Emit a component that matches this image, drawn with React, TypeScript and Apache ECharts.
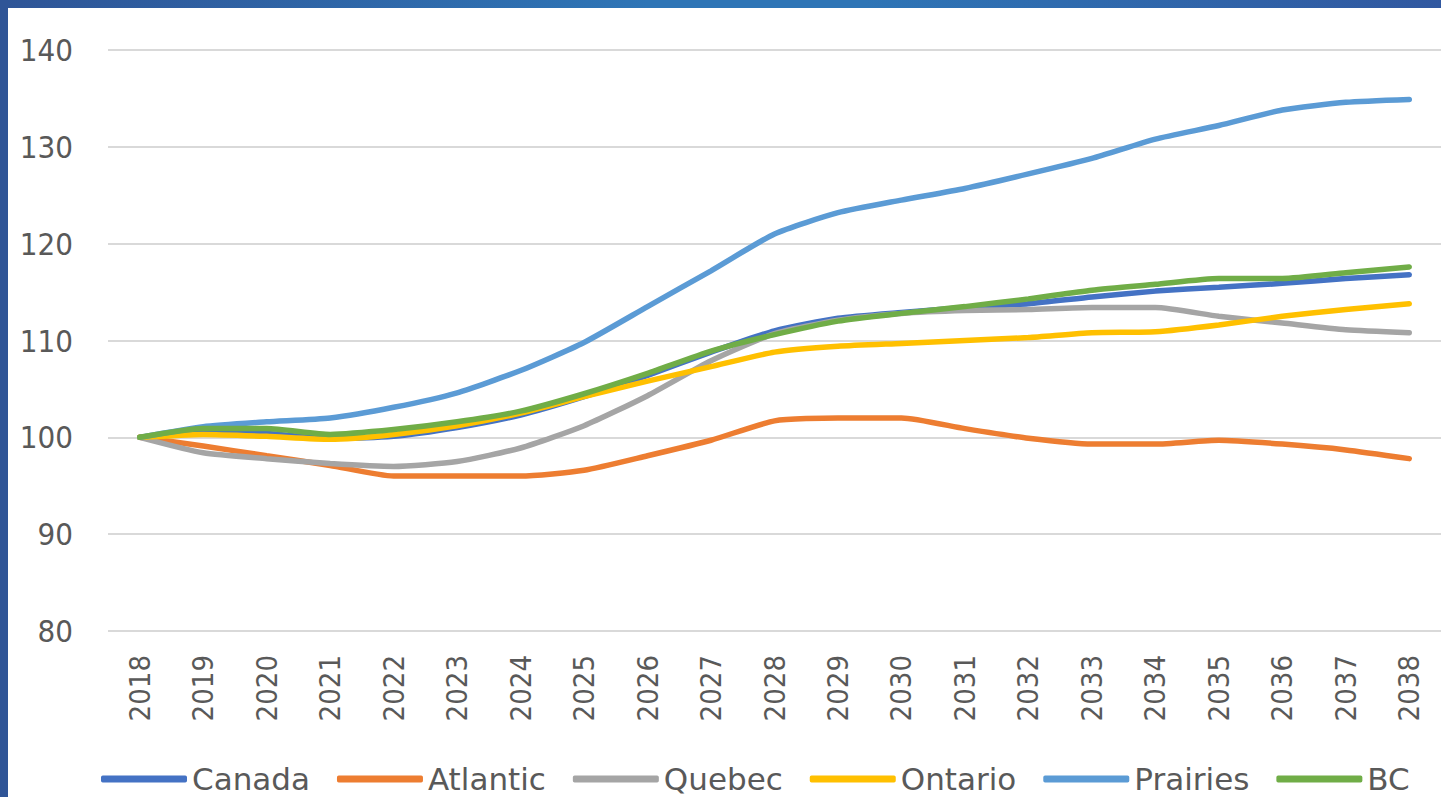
import React, { useEffect, useRef } from "react";
import * as echarts from "echarts";

const years = ["2018","2019","2020","2021","2022","2023","2024","2025","2026","2027","2028","2029","2030","2031","2032","2033","2034","2035","2036","2037","2038"];
const seriesNames = ["Canada", "Atlantic", "Quebec", "Ontario", "Prairies", "BC"];
const colors = ["#4472C4", "#ED7D31", "#A5A5A5", "#FFC000", "#5B9BD5", "#70AD47"];

const canada = [100, 100.6, 100.4, 99.9, 100.1, 101.0, 102.3, 104.2, 106.4, 108.8, 111.0, 112.3, 112.9, 113.4, 113.8, 114.5, 115.1, 115.5, 115.9, 116.4, 116.8];
const atlantic = [100, 99.1, 98.1, 97.1, 96.0, 96.0, 96.0, 96.6, 98.1, 99.7, 101.7, 102.0, 102.0, 100.9, 99.9, 99.3, 99.3, 99.7, 99.3, 98.7, 97.8];
const quebec = [100, 98.4, 97.8, 97.3, 97.0, 97.5, 98.9, 101.2, 104.3, 107.9, 110.7, 112.1, 112.8, 113.1, 113.2, 113.4, 113.4, 112.5, 111.8, 111.1, 110.8];
const ontario = [100, 100.3, 100.1, 99.8, 100.3, 101.2, 102.5, 104.2, 105.8, 107.3, 108.8, 109.4, 109.7, 110.0, 110.3, 110.8, 110.9, 111.6, 112.5, 113.2, 113.8];
const prairies = [100, 101.1, 101.6, 102.0, 103.1, 104.6, 106.9, 109.8, 113.5, 117.2, 121.0, 123.2, 124.5, 125.7, 127.2, 128.8, 130.8, 132.2, 133.8, 134.6, 134.9];
const bc = [100, 100.9, 100.9, 100.3, 100.8, 101.6, 102.7, 104.5, 106.6, 108.9, 110.6, 112.0, 112.8, 113.5, 114.3, 115.2, 115.8, 116.4, 116.4, 117.0, 117.6];

const allData = [canada, atlantic, quebec, ontario, prairies, bc];

const FONT = "DejaVu Sans Condensed";
const LEGEND_FONT = "DejaVu Sans";

export default function App() {
  const ref = useRef<HTMLDivElement>(null);
  useEffect(() => {
    if (!ref.current) return;
    const chart = echarts.init(ref.current, null, { renderer: "svg" });
    chart.setOption({
      animation: false,
      backgroundColor: "transparent",
      color: colors,
      grid: { left: 108, right: 0, top: 50, bottom: 166, containLabel: false },
      legend: {
        top: 758,
        left: 96,
        data: seriesNames,
        icon: "roundRect",
        itemWidth: 86,
        itemHeight: 7,
        itemGap: 27,
        textStyle: { color: "#595959", fontSize: 31, lineHeight: 32, fontFamily: LEGEND_FONT },
      },
      xAxis: {
        type: "category",
        data: years,
        boundaryGap: true,
        axisLine: { show: false },
        axisTick: { show: false },
        axisLabel: { rotate: 90, color: "#595959", fontSize: 29, fontFamily: FONT, margin: 24 },
      },
      yAxis: {
        type: "value",
        min: 80,
        max: 140,
        interval: 10,
        axisLine: { show: false },
        axisTick: { show: false },
        axisLabel: { color: "#595959", fontSize: 31, fontFamily: FONT, margin: 35 },
        splitLine: { lineStyle: { color: "#D9D9D9", width: 2 } },
      },
      series: seriesNames.map((name, i) => ({
        name,
        type: "line",
        data: allData[i],
        smooth: 0.2,
        symbol: "none",
        lineStyle: { width: 5.5, color: colors[i], cap: "round" },
        itemStyle: { color: colors[i] },
      })),
    });
    return () => chart.dispose();
  }, []);

  return (
    <div style={{ position: "fixed", left: 0, top: 0, width: 1441, height: 797, background: "#ffffff", overflow: "hidden" }}>
      <div style={{ position: "absolute", left: 0, top: 0, width: 1441, height: 8, background: "linear-gradient(90deg, #2F5597 0%, #2E75B6 45%, #2E75B6 60%, #3158A0 100%)" }} />
      <div style={{ position: "absolute", left: 0, top: 0, width: 8, height: 797, background: "#2F5597" }} />
      <div ref={ref} style={{ position: "absolute", left: 0, top: 0, width: 1441, height: 797 }} />
    </div>
  );
}
